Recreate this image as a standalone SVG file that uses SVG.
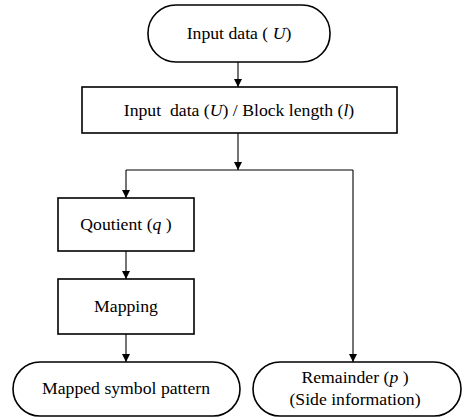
<svg xmlns="http://www.w3.org/2000/svg" width="463" height="418" viewBox="0 0 463 418">
<style>
.shape{fill:#fff;stroke:#000;stroke-width:1.6}
.t{font-size:17.7px;fill:#000;text-anchor:middle}
.i{font-style:italic}
.c{fill:none;stroke:#000;stroke-width:1.1}
</style>
<defs>
<marker id="ah" markerWidth="8" markerHeight="10" refX="8" refY="4" orient="auto" markerUnits="userSpaceOnUse" viewBox="0 0 8 10">
<path d="M0,0 L8,4 L0,8 Z" fill="#000"/>
</marker>
</defs>
<rect width="463" height="418" fill="#fff"/>
<g id="connectors">
<line class="c" x1="238" y1="62" x2="238" y2="87" marker-end="url(#ah)"/>
<line class="c" x1="238" y1="133" x2="238" y2="170" marker-end="url(#ah)"/>
<polyline class="c" points="126,170 353,170"/>
<line class="c" x1="126" y1="170" x2="126" y2="198" marker-end="url(#ah)"/>
<line class="c" x1="353" y1="170" x2="353" y2="362" marker-end="url(#ah)"/>
<line class="c" x1="126" y1="251" x2="126" y2="279" marker-end="url(#ah)"/>
<line class="c" x1="126" y1="334" x2="126" y2="362" marker-end="url(#ah)"/>
</g>
<g font-family="'Liberation Serif', 'DejaVu Serif', serif">
<g id="input">
<rect class="shape" x="148" y="5" width="182" height="57" rx="28" ry="28"/>
<text class="t" x="239" y="39">Input data ( <tspan class="i">U</tspan>)</text>
</g>
<g id="divide">
<rect class="shape" x="82" y="87" width="315" height="46"/>
<text class="t" x="239" y="116">Input&#160; data (<tspan class="i">U</tspan>) / Block length (<tspan class="i">l</tspan>)</text>
</g>
<g id="quotient">
<rect class="shape" x="58" y="198" width="136" height="53"/>
<text class="t" x="126" y="230">Qoutient (<tspan class="i">q</tspan> )</text>
</g>
<g id="mapping">
<rect class="shape" x="58" y="279" width="136" height="55"/>
<text class="t" x="126" y="312">Mapping</text>
</g>
<g id="mapped">
<rect class="shape" x="13" y="362" width="227" height="54" rx="27" ry="27"/>
<text class="t" x="126" y="394">Mapped symbol pattern</text>
</g>
<g id="remainder">
<rect class="shape" x="253" y="362" width="208" height="54" rx="27" ry="27"/>
<text class="t" x="355" y="383">Remainder (<tspan class="i">p</tspan> )</text>
<text class="t" x="355" y="405">(Side information)</text>
</g>
</g>
</svg>
